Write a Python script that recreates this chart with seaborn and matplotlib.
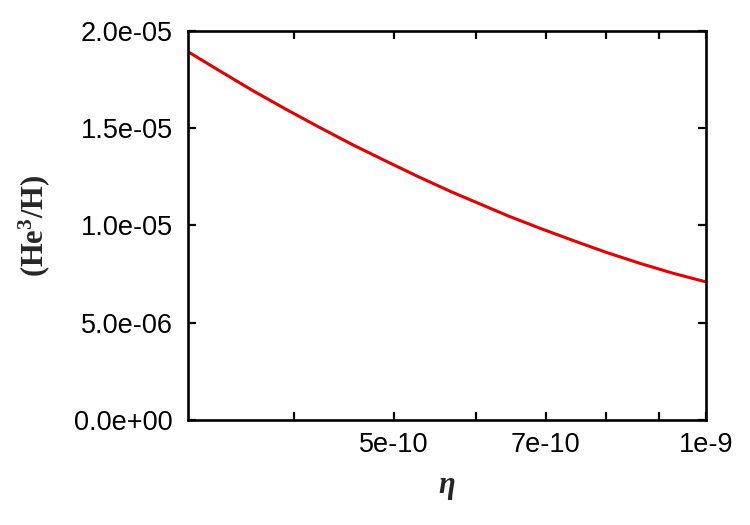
import numpy as np
import pandas as pd
import matplotlib
matplotlib.use("Agg")
import matplotlib.pyplot as plt
import seaborn as sns

### Data (eta vs He3/H abundance)
eta = [3.17e-10, 3.39e-10, 3.65e-10, 3.93e-10, 4.23e-10, 4.56e-10, 4.91e-10,
       5.28e-10, 5.69e-10, 5.97e-10, 6.43e-10, 6.92e-10, 7.45e-10, 8.02e-10,
       8.64e-10, 9.30e-10, 1.0e-9]
he3_h = [1.890e-5, 1.796e-5, 1.694e-5, 1.598e-5, 1.506e-5, 1.415e-5, 1.331e-5,
         1.250e-5, 1.171e-5, 1.124e-5, 1.051e-5, 0.985e-5, 0.922e-5, 0.861e-5,
         0.805e-5, 0.754e-5, 0.710e-5]

xtick_vals = [4e-10, 5e-10, 6e-10, 7e-10, 8e-10, 9e-10, 1e-9]
xtick_labels = ["", "5e-10", "", "7e-10", "", "", "1e-9"]
ytick_vals = [0.0, 5e-6, 1e-5, 1.5e-5, 2e-5]
ytick_labels = ["0.0e+00", "5.0e-06", "1.0e-05", "1.5e-05", "2.0e-05"]

df = pd.DataFrame({"eta": eta, "he3": he3_h})

sns.set_style("ticks")
plt.rcParams["font.family"] = ["Liberation Sans", "DejaVu Sans"]
plt.rcParams["mathtext.fontset"] = "custom"
plt.rcParams["mathtext.rm"] = "Liberation Serif:bold"
plt.rcParams["mathtext.it"] = "Liberation Serif:italic:bold"

fig = plt.figure(figsize=(7.5, 5.25), dpi=100)
ax = fig.add_axes([0.2507, 0.2, 0.6906, 0.741])

sns.lineplot(data=df, x="eta", y="he3", color="#e00000", linewidth=2.2, ax=ax)

ax.set_xscale("log")
ax.set_xlim(10**-9.5, 1e-9)
ax.set_ylim(0, 2e-5)
ax.set_xticks(xtick_vals)
ax.set_xticklabels(xtick_labels)
ax.xaxis.set_minor_locator(matplotlib.ticker.NullLocator())
ax.set_yticks(ytick_vals)
ax.set_yticklabels(ytick_labels)

for side in ["top", "right", "bottom", "left"]:
    ax.spines[side].set_visible(True)
    ax.spines[side].set_linewidth(1.9)
    ax.spines[side].set_color("black")

ax.tick_params(axis="both", direction="in", length=5.5, width=1.6,
               top=True, right=True, labelsize=19.5, colors="black")
ax.tick_params(axis="x", pad=9)
ax.tick_params(axis="y", pad=11)

ax.set_xlabel(r"$\eta$", fontsize=22, labelpad=10)
ax.set_ylabel("(He$^\\mathrm{3}$/H)", fontsize=22, family="Liberation Serif",
              fontweight="bold", labelpad=16)

fig.savefig("out.png", dpi=100)
